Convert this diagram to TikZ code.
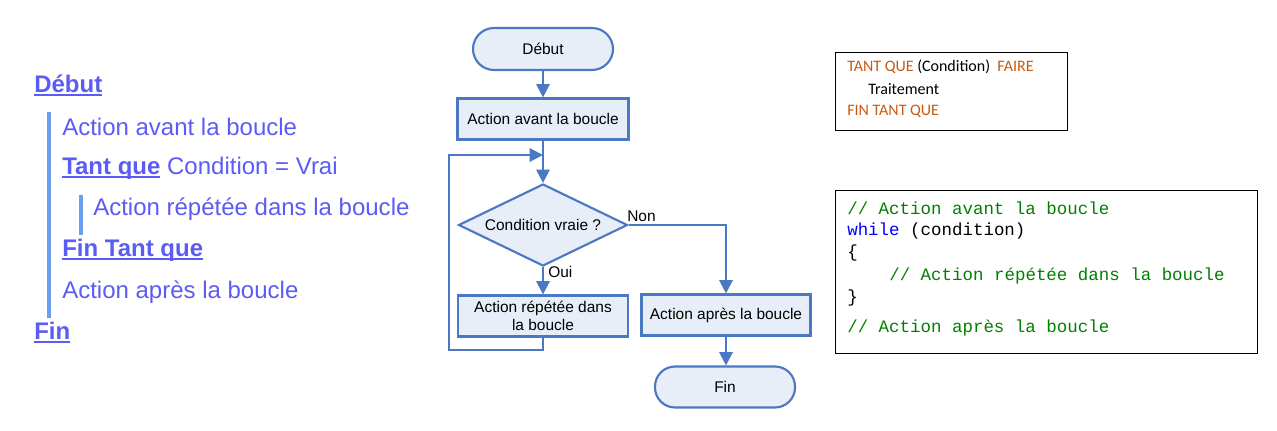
\documentclass[tikz,border=0pt]{standalone}
\usepackage{fontspec}
\setmainfont{Liberation Sans}
\newfontfamily\calib{Carlito}
\newfontfamily\mono{Liberation Mono}
\usetikzlibrary{shapes.geometric,arrows.meta}
\definecolor{ltxt}{HTML}{5B5BF5}
\definecolor{lbar}{HTML}{6A9EF0}
\definecolor{fl}{HTML}{4A78C2}
\definecolor{ff}{HTML}{E8EEF8}
\definecolor{org}{HTML}{C55A11}
\definecolor{cgreen}{HTML}{008000}
\definecolor{cblue}{HTML}{0000FF}
\newcommand\myul[1]{\setbox0\hbox{#1}\rlap{\rule[-2.6pt]{\wd0}{1.5pt}}\box0\relax}
\begin{document}
\begin{tikzpicture}[x=0.75pt,y=-0.75pt,
  lt/.style={anchor=west,inner sep=0pt,text=ltxt,font=\fontsize{18}{21}\selectfont},
  bar/.style={lbar,line width=3pt},
  fbox/.style={draw=fl,fill=ff,line width=1.6pt,font=\fontsize{11.6}{14}\selectfont,align=center,inner sep=0pt},
  arr/.style={draw=fl,line width=1.6pt,-{Triangle[length=10pt,width=10pt]}},
  lab/.style={font=\fontsize{11.6}{13}\selectfont,inner sep=0pt},
  ct/.style={anchor=west,inner sep=0pt,font=\calib\fontsize{12}{14}\selectfont},
  cd/.style={anchor=west,inner sep=0pt,font=\mono\fontsize{13.1}{15}\selectfont}]
\useasboundingbox (0,0) rectangle (1277,431);
% left pseudo-code
\draw[bar] (49,112) -- (49,318);
\draw[bar] (81,195) -- (81,235);
\node[lt] (l1) at (34,85) {\myul{\textbf{Début}}};
\node[lt] (l2) at (62,127) {Action avant la boucle};
\node[lt] (l3) at (62,168) {\myul{\textbf{Tant que}} Condition = Vrai};
\node[lt] (l4) at (93,209) {Action répétée dans la boucle};
\node[lt] (l5) at (62,250) {\myul{\textbf{Fin Tant que}}};
\node[lt] (l6) at (62,292) {Action après la boucle};
\node[lt] (l7) at (34,333) {\myul{\textbf{Fin}}};
% flowchart
\node[fbox,rounded corners=21*0.75pt,minimum width=140*0.75pt,minimum height=42*0.75pt] (deb) at (543,49) {Début};
\node[fbox,minimum width=171*0.75pt,minimum height=41*0.75pt] (av) at (543,119) {Action avant la boucle};
\node[fbox,diamond,aspect=2.06,minimum width=169*0.75pt,minimum height=82*0.75pt,inner sep=0pt] (cond) at (543,225) {Condition vraie ?};
\node[fbox,minimum width=170*0.75pt,minimum height=41*0.75pt] (rep) at (543,316) {Action répétée dans\\la boucle};
\node[fbox,minimum width=169*0.75pt,minimum height=41*0.75pt] (ap) at (726,315) {Action après la boucle};
\node[fbox,rounded corners=20*0.75pt,minimum width=140*0.75pt,minimum height=41*0.75pt] (fin) at (725,387) {Fin};
\coordinate (j) at (543,155);
\draw[arr] (deb) -- (av);
\draw[arr] (av) -- (cond);
\draw[arr] (cond) -- (rep);
\draw[arr] (cond.east) -| (ap.north);
\draw[arr] (ap) -- (fin.north -| ap.south);
\draw[arr] (rep.south) -- (543,350) -- (449,350) -- (449,155) -- (j);
\node[lab,anchor=west] (non) at (627,216) {Non};
\node[lab,anchor=west] (oui) at (548,272) {Oui};
% box 1
\draw[black,line width=0.7pt] (835,52) rectangle (1067,130);
\node[ct] (t1) at (847,67) {\textcolor{org}{TANT QUE} (Condition)\ \ \textcolor{org}{FAIRE}};
\node[ct] (t2) at (868,89) {Traitement};
\node[ct,text=org] (t3) at (847,111) {FIN TANT QUE};
% box 2
\draw[black,line width=0.7pt] (835,190) rectangle (1257,353);
\node[cd,text=cgreen] (c1) at (847,208) {// Action avant la boucle};
\node[cd] (c2) at (847,231) {\textcolor{cblue}{while} (condition)};
\node[cd] (c3) at (847,253) {\{};
\node[cd,text=cgreen] (c4) at (889,276) {// Action répétée dans la boucle};
\node[cd] (c5) at (847,298) {\}};
\node[cd,text=cgreen] (c6) at (847,328) {// Action après la boucle};
\end{tikzpicture}
\end{document}
